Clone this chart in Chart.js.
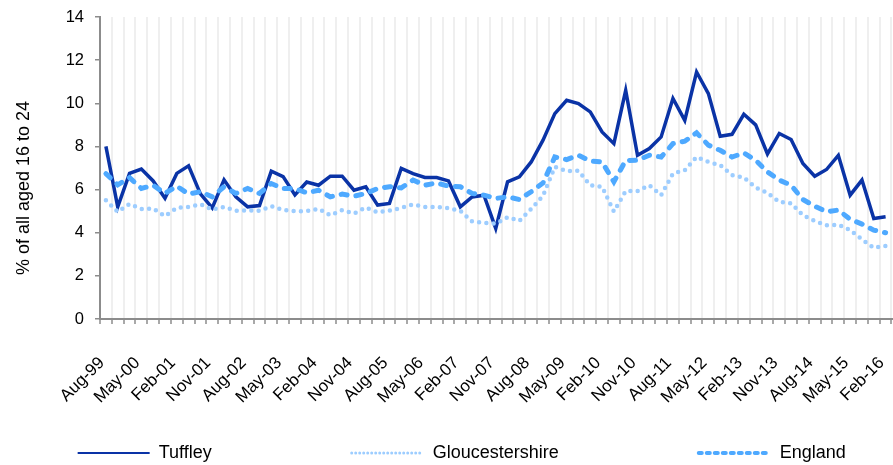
<!DOCTYPE html>
<html>
<head>
<meta charset="utf-8">
<title>% of all aged 16 to 24</title>
<script src="https://cdn.jsdelivr.net/npm/chart.js@4/dist/chart.umd.min.js"></script>
<style>
  html, body { margin: 0; padding: 0; background: #fff; }
  #wrap { position: relative; width: 893px; height: 465px; }
</style>
</head>
<body>
<div id="wrap"><canvas id="chart"></canvas></div>
<script>
// quarterly categories, Aug-99 to Feb-16
const quarters = [
  'Aug-99', 'Nov-99',
  'Feb-00', 'May-00', 'Aug-00', 'Nov-00',
  'Feb-01', 'May-01', 'Aug-01', 'Nov-01',
  'Feb-02', 'May-02', 'Aug-02', 'Nov-02',
  'Feb-03', 'May-03', 'Aug-03', 'Nov-03',
  'Feb-04', 'May-04', 'Aug-04', 'Nov-04',
  'Feb-05', 'May-05', 'Aug-05', 'Nov-05',
  'Feb-06', 'May-06', 'Aug-06', 'Nov-06',
  'Feb-07', 'May-07', 'Aug-07', 'Nov-07',
  'Feb-08', 'May-08', 'Aug-08', 'Nov-08',
  'Feb-09', 'May-09', 'Aug-09', 'Nov-09',
  'Feb-10', 'May-10', 'Aug-10', 'Nov-10',
  'Feb-11', 'May-11', 'Aug-11', 'Nov-11',
  'Feb-12', 'May-12', 'Aug-12', 'Nov-12',
  'Feb-13', 'May-13', 'Aug-13', 'Nov-13',
  'Feb-14', 'May-14', 'Aug-14', 'Nov-14',
  'Feb-15', 'May-15', 'Aug-15', 'Nov-15',
  'Feb-16'
];

// labels actually printed under the axis (every third quarter)
const shownLabels = [
  'Aug-99', 'May-00', 'Feb-01', 'Nov-01', 'Aug-02', 'May-03', 'Feb-04', 'Nov-04',
  'Aug-05', 'May-06', 'Feb-07', 'Nov-07', 'Aug-08', 'May-09', 'Feb-10', 'Nov-10',
  'Aug-11', 'May-12', 'Feb-13', 'Nov-13', 'Aug-14', 'May-15', 'Feb-16'
];

const tuffley = [
  8.0, 5.2, 6.75, 6.95, 6.4, 5.6, 6.75, 7.1, 5.8, 5.15,
  6.45, 5.66, 5.2, 5.26, 6.85, 6.6, 5.75, 6.35, 6.2, 6.62,
  6.62, 5.97, 6.13, 5.28, 5.36, 6.98, 6.74, 6.56, 6.56, 6.4,
  5.2, 5.66, 5.74, 4.2, 6.36, 6.59, 7.28, 8.29, 9.52, 10.14,
  9.99, 9.6, 8.67, 8.13, 10.6, 7.59, 7.9, 8.44, 10.22, 9.21,
  11.45, 10.45, 8.47, 8.56, 9.49, 9.0, 7.65, 8.6, 8.32, 7.21,
  6.62, 6.93, 7.59, 5.74, 6.44, 4.66, 4.74
];

const gloucestershire = [
  5.5, 4.97, 5.33, 5.1, 5.12, 4.77, 5.15, 5.2, 5.32, 5.07,
  5.2, 5.02, 5.03, 5.02, 5.23, 5.05, 5.0, 5.0, 5.11, 4.81,
  5.05, 4.89, 5.17, 4.95, 5.02, 5.15, 5.31, 5.19, 5.2, 5.14,
  5.02, 4.52, 4.46, 4.42, 4.72, 4.55, 5.1, 5.71, 7.05, 6.85,
  6.87, 6.2, 6.13, 4.98, 5.93, 5.93, 6.2, 5.74, 6.74, 6.9,
  7.51, 7.28, 7.13, 6.67, 6.56, 6.1, 5.85, 5.43, 5.36, 4.81,
  4.55, 4.34, 4.37, 4.12, 3.69, 3.3, 3.39
];

const england = [
  6.74, 6.22, 6.55, 6.05, 6.2, 5.82, 6.16, 5.79, 5.9, 5.66,
  6.13, 5.82, 6.05, 5.82, 6.28, 6.05, 6.05, 5.85, 5.97, 5.66,
  5.79, 5.69, 5.82, 6.05, 6.13, 6.08, 6.44, 6.2, 6.31, 6.16,
  6.13, 5.82, 5.74, 5.59, 5.66, 5.54, 5.9, 6.31, 7.51, 7.39,
  7.59, 7.33, 7.28, 6.36, 7.35, 7.36, 7.59, 7.51, 8.13, 8.24,
  8.63, 8.06, 7.82, 7.51, 7.7, 7.36, 6.82, 6.44, 6.2, 5.54,
  5.23, 4.97, 5.05, 4.62, 4.4, 4.12, 4.0
];

const yTitle = '% of all aged 16 to 24';
const yMax = 14;
const yStep = 2;

// legend swatches are thinner than the plotted lines
const legendWidths = [2, 3, 4];
const legendDashes = [[], [0, 4], [3, 5]];
const legendCaps = ['butt', 'round', 'round'];

// trailing spaces widen the legend items / shift the axis title like the original
const legendGap = ' '.repeat(26);
const titlePad = ' '.repeat(8);

Chart.defaults.font.family = "'Liberation Sans', Arial, sans-serif";
Chart.defaults.color = '#000';

// legend sits a little right of centre in the original
const legendNudge = {
  id: 'legendNudge',
  afterLayout(chart) {
    chart.legend.left += 16;
    chart.legend.right += 16;
  }
};

new Chart(document.getElementById('chart'), {
  type: 'line',
  data: {
    labels: quarters,
    datasets: [
      {
        label: 'Tuffley',
        data: tuffley,
        borderColor: '#0a33a6',
        borderWidth: 3.5,
        pointRadius: 0,
        tension: 0,
        order: 3
      },
      {
        label: 'Gloucestershire',
        data: gloucestershire,
        borderColor: '#9dcdff',
        borderWidth: 4.5,
        borderDash: [0, 7.3],
        borderCapStyle: 'round',
        pointRadius: 0,
        tension: 0,
        order: 2
      },
      {
        label: 'England',
        data: england,
        borderColor: '#4ea9ff',
        borderWidth: 5,
        borderDash: [6, 9],
        borderCapStyle: 'round',
        pointRadius: 0,
        tension: 0,
        order: 1
      }
    ]
  },
  options: {
    responsive: true,
    maintainAspectRatio: false,
    animation: false,
    layout: { padding: { top: 17, right: 1.5, bottom: 0, left: 0 } },
    plugins: {
      tooltip: { enabled: false },
      legend: {
        position: 'bottom',
        maxHeight: 31,
        labels: {
          usePointStyle: true,
          pointStyle: 'line',
          pointStyleWidth: 72,
          padding: 10,
          color: '#000',
          font: { size: 18 },
          generateLabels(chart) {
            const items = Chart.defaults.plugins.legend.labels.generateLabels(chart);
            items.sort((a, b) => a.datasetIndex - b.datasetIndex);
            items.forEach((item, i) => {
              const k = item.datasetIndex;
              item.pointStyle = 'line';
              item.strokeStyle = chart.data.datasets[k].borderColor;
              item.lineWidth = legendWidths[k];
              item.lineDash = legendDashes[k];
              item.lineCap = legendCaps[k];
              if (i < items.length - 1) item.text += legendGap;
            });
            return items;
          }
        }
      }
    },
    scales: {
      x: {
        offset: true,
        grid: {
          offset: true,
          color: '#efefef',
          lineWidth: 2,
          tickColor: '#8c8c8c',
          tickLength: 5,
          tickWidth: 1.5
        },
        border: { display: true, color: '#8c8c8c', width: 2 },
        ticks: {
          autoSkip: false,
          minRotation: 45,
          maxRotation: 45,
          padding: 29,
          labelOffset: -4,
          color: '#000',
          font: { size: 17 },
          callback(value) {
            const label = this.getLabelForValue(value);
            return shownLabels.includes(label) ? label : '';
          }
        },
        afterFit(scale) {
          scale.paddingLeft = 0;
          scale.paddingRight = 0;
          scale.height = 115;
        }
      },
      y: {
        min: 0,
        max: yMax,
        ticks: { stepSize: yStep, padding: 11, color: '#000', font: { size: 16.5 } },
        grid: { drawOnChartArea: false, color: '#8c8c8c', tickLength: 5, lineWidth: 1.5 },
        border: { display: true, color: '#8c8c8c', width: 2 },
        title: {
          display: true,
          text: yTitle + titlePad,
          color: '#000',
          font: { size: 18 },
          padding: { top: 13, bottom: 0 }
        },
        afterFit(scale) {
          scale.width = 100;
          scale.paddingTop = 0;
          scale.paddingBottom = 0;
        }
      }
    }
  },
  plugins: [legendNudge]
});
</script>
</body>
</html>
